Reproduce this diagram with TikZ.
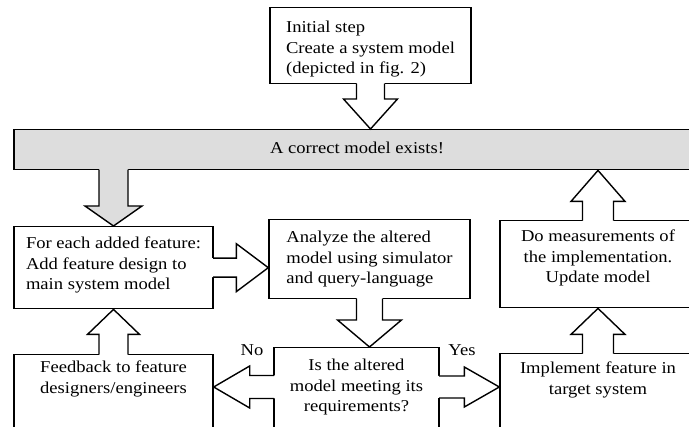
\documentclass[tikz,border=0pt]{standalone}
\usepackage{fontspec}
\setmainfont{Liberation Serif}[FakeStretch=1.12]
\usetikzlibrary{calc}
\definecolor{barfill}{RGB}{221,221,221}

\tikzset{
	stage/.style={draw, line width=1.4pt, fill=white, inner ysep=0pt, inner xsep=6pt, anchor=north,
		font=\fontsize{16.6}{20.5}\selectfont},
	tag/.style={anchor=base, inner sep=0pt, font=\fontsize{16.6}{20.5}\selectfont},
	outline/.style={line width=1.4pt, line join=miter},
}

% fat arrow: [fill]{tail}{tip}{shaft half width}{head half width}{head length}
\newcommand{\blockarrow}[6][white]{%
	\fill[#1] let \p1=#2, \p2=#3, \n1={veclen(\x2-\x1,\y2-\y1)}, \n2={atan2(\y2-\y1,\x2-\x1)} in
		[shift={(\p1)}, rotate=\n2] (-2,#4) -- ({\n1-#6},#4) -- ({\n1-#6},#5) -- (\n1,0)
		-- ({\n1-#6},-#5) -- ({\n1-#6},-#4) -- (-2,-#4) -- cycle;
	\draw[outline] let \p1=#2, \p2=#3, \n1={veclen(\x2-\x1,\y2-\y1)}, \n2={atan2(\y2-\y1,\x2-\x1)} in
		[shift={(\p1)}, rotate=\n2] (-0.7,#4) -- ({\n1-#6},#4) -- ({\n1-#6},#5) -- (\n1,0)
		-- ({\n1-#6},-#5) -- ({\n1-#6},-#4) -- (-0.7,-#4);
}

\begin{document}
\begin{tikzpicture}[x=1pt, y=1pt]
	%\draw[help lines, step=20] (0,0) grid (689,-427);
	\useasboundingbox (0,0) rectangle (689,-427);
	\clip (0,0) rectangle (689,-427);
	
	\node[stage, align=left, minimum width=201, text height=66, text depth=10] (init) at (370.5,-7)
		{Initial step\\Create a system model\\(depicted in fig. 2)};
	\node[stage, fill=barfill, minimum width=686, text height=24, text depth=16] (bar) at (357,-129)
		{A correct model exists!};
	
	\node[stage, align=left, minimum width=199, text height=63, text depth=19] (feature) at (113.5,-226)
		{For each added feature:\\Add feature design to\\main system model};
	\node[stage, align=left, minimum width=201, text height=64, text depth=15] (analyze) at (369.5,-219)
		{Analyze the altered\\model using simulator\\and query-language};
	\node[stage, align=center, minimum width=196, text height=62, text depth=25] (measure) at (598,-220)
		{Do measurements of\\the implementation.\\Update model};
	
	\node[stage, align=center, minimum width=199, text height=38.5, text depth=100] (feedback) at (113.5,-354)
		{Feedback to feature\\designers/engineers};
	\node[stage, align=center, minimum width=165, text height=64, text depth=100] (decide) at (356.5,-347)
		{Is the altered\\model meeting its\\requirements?};
	\node[stage, align=center, minimum width=196, text height=40.5, text depth=100] (implement) at (598,-353)
		{Implement feature in\\target system};
	
	\node[tag] (no) at (252,-356) {No};
	\node[tag] (yes) at (462,-356) {Yes};
	\coordinate (fork) at (356.5,-387);
	
	\blockarrow{(init.south)}{(init.south |- bar.north)}{14}{27}{30}
	\blockarrow[barfill]{(feature.north |- bar.south)}{(feature.north)}{14.5}{28.5}{20}
	\blockarrow{(feature.east)}{(analyze.west |- feature.east)}{9.5}{24}{32}
	\blockarrow{(analyze.south)}{(analyze.south |- decide.north)}{13}{32}{27}
	\blockarrow{(measure.north)}{(measure.north |- bar.south)}{15.5}{27}{31}
	\blockarrow{(feedback.north)}{(feedback.north |- feature.south)}{14.5}{26}{25}
	\blockarrow{(decide.west |- fork)}{(feedback.east |- fork)}{11.5}{21}{36}
	\blockarrow{(decide.east |- fork)}{(implement.west |- fork)}{11}{20}{35}
	\blockarrow{(implement.north)}{(implement.north |- measure.south)}{15.5}{27}{26}
\end{tikzpicture}
\end{document}
